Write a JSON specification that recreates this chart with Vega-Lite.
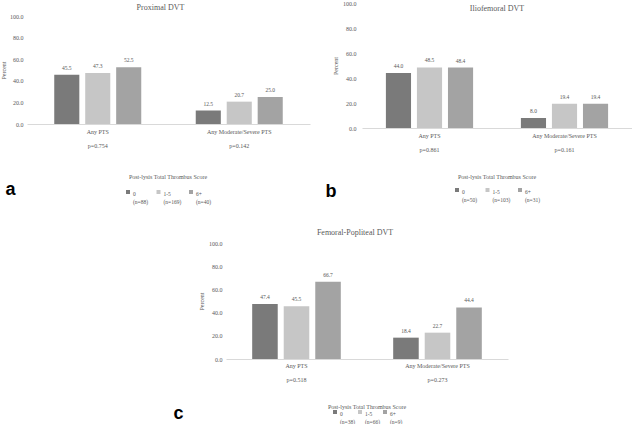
{
  "$schema": "https://vega.github.io/schema/vega-lite/v6.json",
  "background": "white",
  "padding": {"left": 0, "top": 0, "right": 0, "bottom": 0},
  "config": {
    "view": {"stroke": null},
    "font": "Liberation Serif",
    "title": {"fontSize": 8, "fontWeight": "normal", "color": "#595959", "font": "Liberation Serif"},
    "axis": {"labelFont": "Liberation Serif", "titleFont": "Liberation Serif", "labelColor": "#595959", "titleColor": "#595959", "labelFontSize": 6, "titleFontSize": 6, "titleFontWeight": "normal", "grid": false, "ticks": false},
    "legend": {"labelFont": "Liberation Serif", "titleFont": "Liberation Serif", "labelColor": "#595959", "titleColor": "#595959", "labelFontSize": 5.5, "titleFontSize": 6, "titleFontWeight": "normal", "layout": {"bottom": {"anchor": "middle"}}},
    "text": {"font": "Liberation Serif"}
  },
  "datasets": {
    "a": [
      {"outcome": "Any PTS|p=0.754", "tts": "0|(n=88)", "percent": 45.5},
      {"outcome": "Any PTS|p=0.754", "tts": "1-5|(n=169)", "percent": 47.3},
      {"outcome": "Any PTS|p=0.754", "tts": "6+|(n=40)", "percent": 52.5},
      {"outcome": "Any Moderate/Severe PTS|p=0.142", "tts": "0|(n=88)", "percent": 12.5},
      {"outcome": "Any Moderate/Severe PTS|p=0.142", "tts": "1-5|(n=169)", "percent": 20.7},
      {"outcome": "Any Moderate/Severe PTS|p=0.142", "tts": "6+|(n=40)", "percent": 25.0}
    ],
    "b": [
      {"outcome": "Any PTS|p=0.861", "tts": "0|(n=50)", "percent": 44.0},
      {"outcome": "Any PTS|p=0.861", "tts": "1-5|(n=103)", "percent": 48.5},
      {"outcome": "Any PTS|p=0.861", "tts": "6+|(n=31)", "percent": 48.4},
      {"outcome": "Any Moderate/Severe PTS|p=0.161", "tts": "0|(n=50)", "percent": 8.0},
      {"outcome": "Any Moderate/Severe PTS|p=0.161", "tts": "1-5|(n=103)", "percent": 19.4},
      {"outcome": "Any Moderate/Severe PTS|p=0.161", "tts": "6+|(n=31)", "percent": 19.4}
    ],
    "c": [
      {"outcome": "Any PTS|p=0.518", "tts": "0|(n=38)", "percent": 47.4},
      {"outcome": "Any PTS|p=0.518", "tts": "1-5|(n=66)", "percent": 45.5},
      {"outcome": "Any PTS|p=0.518", "tts": "6+|(n=9)", "percent": 66.7},
      {"outcome": "Any Moderate/Severe PTS|p=0.273", "tts": "0|(n=38)", "percent": 18.4},
      {"outcome": "Any Moderate/Severe PTS|p=0.273", "tts": "1-5|(n=66)", "percent": 22.7},
      {"outcome": "Any Moderate/Severe PTS|p=0.273", "tts": "6+|(n=9)", "percent": 44.4}
    ]
  },
  "spacing": 24,
  "resolve": {"scale": {"color": "independent", "xOffset": "independent", "x": "independent", "y": "independent"}, "legend": {"color": "independent"}},
  "vconcat": [
    {
      "spacing": 15,
      "resolve": {"scale": {"color": "independent", "xOffset": "independent", "x": "independent", "y": "independent"}, "legend": {"color": "independent"}},
      "hconcat": [
        {
          "data": {"name": "a"},
          "width": 283,
          "height": 121,
          "title": {"text": "Proximal DVT", "offset": -9, "dx": -8},
          "encoding": {
            "x": {"field": "outcome", "type": "nominal", "sort": null, "scale": {"paddingInner": 0, "paddingOuter": 0},
              "axis": {"title": null, "labelAngle": 0, "labelExpr": "split(datum.label, '|')", "labelLineHeight": 14, "labelPadding": 7, "domainColor": "#d9d9d9", "labelBaseline": "middle"}},
            "xOffset": {"field": "tts", "type": "nominal", "scale": {"paddingInner": 0.19, "paddingOuter": 0.88}}
          },
          "resolve": {"axis": {"y": "independent"}},
          "layer": [
            {
              "mark": {"type": "bar"},
              "encoding": {
                "y": {"field": "percent", "type": "quantitative", "scale": {"domain": [0, 100], "range": [121, 13]},
                  "axis": {"title": "Percent", "values": [0, 20, 40, 60, 80, 100], "format": ".1f", "domain": false, "labelPadding": 4, "titlePadding": 3}},
                "color": {"field": "tts", "type": "nominal", "scale": {"range": ["#7a7a7a", "#c6c6c6", "#a3a3a3"]},
                  "legend": {"title": "Post-lysis Total Thrombus Score", "orient": "bottom", "direction": "horizontal", "labelExpr": "split(datum.label, '|')", "symbolType": "square", "symbolSize": 16, "titleAnchor": "middle", "columnPadding": 6.5, "labelOffset": 2, "labelBaseline": "top", "offset": 26, "titlePadding": 9}}
              }
            },
            {
              "mark": {"type": "text", "dy": -4, "baseline": "bottom", "fontSize": 5.5, "color": "#595959"},
              "encoding": {
                "y": {"field": "percent", "type": "quantitative",
                  "axis": {"orient": "left", "title": "a", "labels": false, "domain": false, "titleAngle": 0, "titleX": -22, "titleY": 191, "titleAlign": "left", "titleBaseline": "alphabetic", "titleFont": "Liberation Sans", "titleFontSize": 18, "titleFontWeight": "bold", "titleColor": "#000000"}},
                "text": {"field": "percent", "type": "quantitative", "format": ".1f"}
              }
            }
          ]
        },
        {
          "data": {"name": "b"},
          "width": 270,
          "height": 125,
          "title": {"text": "Iliofemoral DVT", "offset": -13},
          "encoding": {
            "x": {"field": "outcome", "type": "nominal", "sort": null, "scale": {"paddingInner": 0, "paddingOuter": 0},
              "axis": {"title": null, "labelAngle": 0, "labelExpr": "split(datum.label, '|')", "labelLineHeight": 14, "labelPadding": 7, "domainColor": "#d9d9d9", "labelBaseline": "middle"}},
            "xOffset": {"field": "tts", "type": "nominal", "scale": {"paddingInner": 0.19, "paddingOuter": 0.77}}
          },
          "resolve": {"axis": {"y": "independent"}},
          "layer": [
            {
              "mark": {"type": "bar"},
              "encoding": {
                "y": {"field": "percent", "type": "quantitative", "scale": {"domain": [0, 100]},
                  "axis": {"title": "Percent", "values": [0, 20, 40, 60, 80, 100], "format": ".1f", "domain": false, "labelPadding": 6, "titlePadding": 4}},
                "color": {"field": "tts", "type": "nominal", "scale": {"range": ["#7a7a7a", "#c6c6c6", "#a3a3a3"]},
                  "legend": {"title": "Post-lysis Total Thrombus Score", "orient": "bottom", "direction": "horizontal", "labelExpr": "split(datum.label, '|')", "symbolType": "square", "symbolSize": 16, "titleAnchor": "middle", "columnPadding": 6.5, "labelOffset": 2, "labelBaseline": "top", "offset": 22, "titlePadding": 7}}
              }
            },
            {
              "mark": {"type": "text", "dy": -4, "baseline": "bottom", "fontSize": 5.5, "color": "#595959"},
              "encoding": {
                "y": {"field": "percent", "type": "quantitative",
                  "axis": {"orient": "left", "title": "b", "labels": false, "domain": false, "titleAngle": 0, "titleX": -37, "titleY": 193, "titleAlign": "left", "titleBaseline": "alphabetic", "titleFont": "Liberation Sans", "titleFontSize": 18, "titleFontWeight": "bold", "titleColor": "#000000"}},
                "text": {"field": "percent", "type": "quantitative", "format": ".1f"}
              }
            }
          ]
        }
      ]
    },
    {
      "hconcat": [
        {
          "width": 146,
          "height": 10,
          "data": {"values": []},
          "mark": {"type": "point"}
        },
        {
          "data": {"name": "c"},
          "width": 282,
          "height": 116,
          "title": {"text": "Femoral-Popliteal DVT", "offset": 3, "dx": -12},
          "encoding": {
            "x": {"field": "outcome", "type": "nominal", "sort": null, "scale": {"paddingInner": 0, "paddingOuter": 0},
              "axis": {"title": null, "labelAngle": 0, "labelExpr": "split(datum.label, '|')", "labelLineHeight": 14, "labelPadding": 6, "domainColor": "#d9d9d9", "labelBaseline": "middle"}},
            "xOffset": {"field": "tts", "type": "nominal", "scale": {"paddingInner": 0.19, "paddingOuter": 0.83}}
          },
          "resolve": {"axis": {"y": "independent"}},
          "layer": [
            {
              "mark": {"type": "bar"},
              "encoding": {
                "y": {"field": "percent", "type": "quantitative", "scale": {"domain": [0, 100]},
                  "axis": {"title": "Percent", "values": [0, 20, 40, 60, 80, 100], "format": ".1f", "domain": false, "labelPadding": 4, "titlePadding": 4}},
                "color": {"field": "tts", "type": "nominal", "scale": {"range": ["#7a7a7a", "#c6c6c6", "#a3a3a3"]},
                  "legend": {"title": "Post-lysis Total Thrombus Score", "orient": "bottom", "direction": "horizontal", "labelExpr": "split(datum.label, '|')", "symbolType": "square", "symbolSize": 16, "titleAnchor": "middle", "columnPadding": 1, "labelOffset": 2, "labelBaseline": "top", "offset": 22, "titlePadding": -1}}
              }
            },
            {
              "mark": {"type": "text", "dy": -4, "baseline": "bottom", "fontSize": 5.5, "color": "#595959"},
              "encoding": {
                "y": {"field": "percent", "type": "quantitative",
                  "axis": {"orient": "left", "title": "c", "labels": false, "domain": false, "titleAngle": 0, "titleX": -53, "titleY": 175, "titleAlign": "left", "titleBaseline": "alphabetic", "titleFont": "Liberation Sans", "titleFontSize": 18, "titleFontWeight": "bold", "titleColor": "#000000"}},
                "text": {"field": "percent", "type": "quantitative", "format": ".1f"}
              }
            }
          ]
        }
      ],
      "spacing": 0,
      "resolve": {"scale": {"color": "independent", "xOffset": "independent", "x": "independent", "y": "independent"}, "legend": {"color": "independent"}}
    }
  ]
}
